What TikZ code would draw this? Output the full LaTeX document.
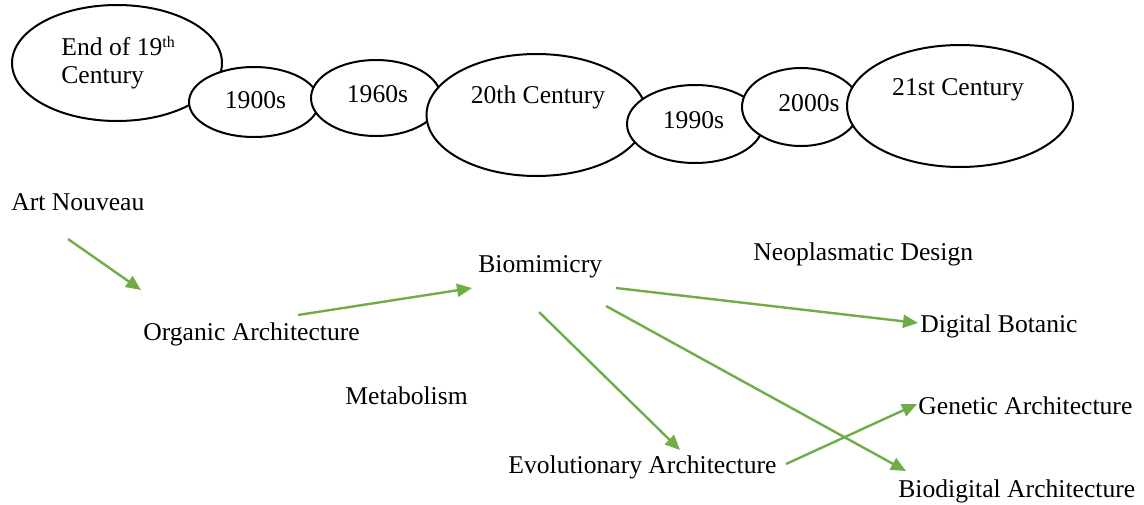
\documentclass[tikz,border=0pt]{standalone}
\usepackage{fontspec}
\setmainfont{Liberation Serif}
\usetikzlibrary{arrows.meta,shapes.geometric}
\definecolor{leafgreen}{RGB}{112,173,71}

\begin{document}
\begin{tikzpicture}[x=0.5pt,y=-0.5pt,
  era/.style={ellipse,draw,fill=white,line width=1pt,inner sep=0pt},
  lbl/.style={inner sep=0pt,font=\fontsize{12.8}{14}\selectfont},
  flow/.style={draw=leafgreen,line width=1.2pt,-{Triangle[length=7.5pt,width=6.5pt]}}]
  \useasboundingbox (0,0) rectangle (1144,504);
  % timeline: each era drawn over the one before it
  \foreach \n/\cx/\cy/\rx/\ry in {e19/117/63/105/58, e1900/254/102/65/35, e1960/376/98/65/38,
      e20/536.5/115/110/61, e1990/695/124/68/39, e2000/801/107/59/39, e21/960/106/113/61}
    \node[era,minimum width=\rx pt,minimum height=\ry pt] (\n) at (\cx,\cy) {};
  \node[lbl,anchor=base west,align=left] (t19) at (61,83) {End of 19{\fontsize{8}{8}\selectfont\raisebox{4pt}{th}}\\Century};
  \node[lbl,anchor=base] (t1900) at (255.5,108) {1900s};
  \node[lbl,anchor=base] (t1960) at (377.5,102) {1960s};
  \node[lbl,anchor=base] (t20) at (538,103) {20th Century};
  \node[lbl,anchor=base] (t1990) at (693.5,128) {1990s};
  \node[lbl,anchor=base] (t2000) at (809,111) {2000s};
  \node[lbl,anchor=base] (t21) at (958,95) {21st Century};
  % movements
  \node[lbl,anchor=base west] (art) at (11,210) {Art Nouveau};
  \node[lbl,anchor=base west] (org) at (143,340) {Organic Architecture};
  \node[lbl,anchor=base west] (bio) at (478,272) {Biomimicry};
  \node[lbl,anchor=base west] (neo) at (753,260) {Neoplasmatic Design};
  \node[lbl,anchor=base west] (dig) at (920,332) {Digital Botanic};
  \node[lbl,anchor=base west] (meta) at (345,404) {Metabolism};
  \node[lbl,anchor=base west] (gen) at (918,414) {Genetic Architecture};
  \node[lbl,anchor=base west] (evo) at (508,473) {Evolutionary Architecture};
  \node[lbl,anchor=base west] (biod) at (898,497) {Biodigital Architecture};
  % influences
  \draw[flow] ([shift={(57,29)}]art.base west) -- ([shift={(-2,-50)}]org.base west);
  \draw[flow] ([shift={(155,-25)}]org.base west) -- ([shift={(-6,16)}]bio.base west);
  \draw[flow] ([shift={(138,16)}]bio.base west) -- ([shift={(-2,-9)}]dig.base west);
  \draw[flow] ([shift={(128,34)}]bio.base west) -- ([shift={(8,-26)}]biod.base west);
  \draw[flow] ([shift={(61,40)}]bio.base west) -- ([shift={(172,-23)}]evo.base west);
  \draw[flow] ([shift={(278,-9)}]evo.base west) -- ([shift={(-1,-10)}]gen.base west);
\end{tikzpicture}
\end{document}
